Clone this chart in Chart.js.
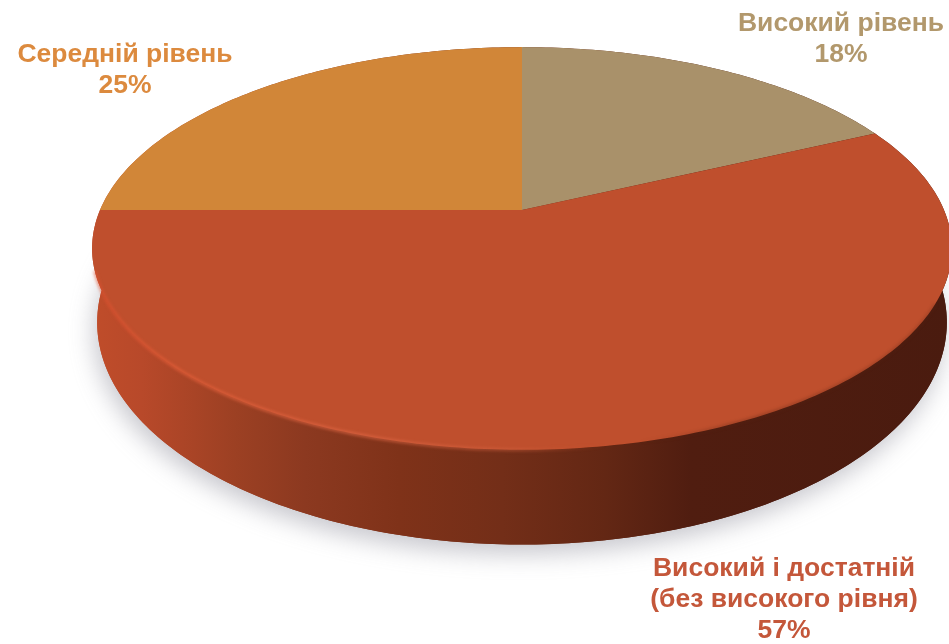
<!DOCTYPE html>
<html>
<head>
<meta charset="utf-8">
<style>html,body{margin:0;padding:0;background:#fff;overflow:hidden}canvas{display:block}</style>
<script src="https://cdn.jsdelivr.net/npm/chart.js@4/dist/chart.umd.min.js"></script>
</head>
<body>
<canvas id="c" width="949" height="644"></canvas>
<script>
const categories = [['Високий рівень'], ['Високий і достатній', '(без високого рівня)'], ['Середній рівень']];
const values = [18, 57, 25];
const faceColors = ['#a9916a', '#bf4f2d', '#d18638'];
const textColors = ['#b2986c', '#c4573a', '#dc8a3e'];

const labelAnchors = [[841, 24], [784, 569], [125, 55]];
const LINE = 31;
const K = 0.191;
const topDisc = {cx: 522, cy: 210, a: 194, b: 422};
const lowDisc = {cx: 522, cy: 280, a: 214, b: 417};

function project(d, theta) {
  const u = Math.sin(theta), v = Math.cos(theta), w = 1 + K * v;
  return [d.cx + d.b * u / w, d.cy - d.a * v / w];
}
function trace(ctx, d, t0, t1, withCentre) {
  const n = Math.max(2, Math.ceil(Math.abs(t1 - t0) * 60));
  if (withCentre) ctx.lineTo(d.cx, d.cy);
  for (let i = 0; i <= n; i++) {
    const p = project(d, t0 + (t1 - t0) * i / n);
    ctx.lineTo(p[0], p[1]);
  }
}
const perspectivePie = {
  id: 'perspectivePie',
  beforeDatasetsDraw(chart) {
    const ctx = chart.ctx;
    const arcs = chart.getDatasetMeta(0).data;
    const angle = a => a + Math.PI / 2;
    ctx.save();

    const sideGrad = ctx.createLinearGradient(90, 0, 949, 0);
    [[0, '#c04d2a'], [0.06, '#b8492a'], [0.17, '#9c4023'], [0.25, '#8c3920'], [0.36, '#7f3219'],
     [0.48, '#732e18'], [0.6, '#632714'], [0.7, '#501d10'], [1, '#4a1b0f']].forEach(s => sideGrad.addColorStop(s[0], s[1]));

    // ground shadow + lower disc
    ctx.save();
    ctx.shadowColor = 'rgba(120,120,135,0.42)';
    ctx.shadowBlur = 24;
    ctx.shadowOffsetX = -3;
    ctx.shadowOffsetY = 9;
    ctx.fillStyle = sideGrad;
    ctx.beginPath();
    trace(ctx, lowDisc, 0, Math.PI * 2, false);
    ctx.closePath();
    ctx.fill();
    ctx.restore();

    ctx.filter = 'blur(0.7px)';
    // wall between lower and upper disc
    ctx.fillStyle = sideGrad;
    arcs.forEach(el => {
      const t0 = angle(el.startAngle), t1 = angle(el.endAngle);
      ctx.beginPath();
      trace(ctx, topDisc, t0, t1, false);
      trace(ctx, lowDisc, t1, t0, false);
      ctx.closePath();
      ctx.fill();
    });
    // upper faces
    arcs.forEach((el, i) => {
      ctx.fillStyle = faceColors[i];
      ctx.beginPath();
      trace(ctx, topDisc, angle(el.startAngle), angle(el.endAngle), true);
      ctx.closePath();
      ctx.fill();
    });
    // rim highlight on the near edge of the largest slice
    const big = arcs[values.indexOf(Math.max(...values))];
    const rim = ctx.createLinearGradient(90, 0, 949, 0);
    [[0, 'rgba(226,80,48,0.55)'], [0.1, 'rgba(232,96,58,0.7)'], [0.3, 'rgba(226,104,70,0.7)'],
     [0.5, 'rgba(216,100,66,0.45)'], [0.6, 'rgba(200,80,45,0)'], [0.64, 'rgba(90,35,18,0)'],
     [0.75, 'rgba(90,35,18,0.35)'], [1, 'rgba(90,35,18,0.25)']].forEach(s => rim.addColorStop(s[0], s[1]));
    ctx.filter = 'blur(1.4px)';
    ctx.strokeStyle = rim;
    ctx.lineWidth = 3;
    ctx.beginPath();
    trace(ctx, topDisc, angle(big.startAngle) + 0.9, angle(big.endAngle) - 0.3, false);
    ctx.stroke();
    ctx.restore();

    // labels
    ctx.save();
    ctx.filter = 'blur(0.3px)';
    ctx.textAlign = 'center';
    ctx.textBaseline = 'middle';
    ctx.font = 'bold 26.5px "Liberation Sans", Arial, sans-serif';
    categories.forEach((lines, i) => {
      ctx.fillStyle = textColors[i];
      const all = lines.concat([values[i] + '%']);
      all.forEach((t, j) => ctx.fillText(t, labelAnchors[i][0], labelAnchors[i][1] + j * LINE));
    });
    ctx.restore();
    return false;
  }
};

new Chart(document.getElementById('c'), {
  type: 'pie',
  data: {
    labels: categories.map(c => c.join(' ')),
    datasets: [{data: values, backgroundColor: faceColors, borderWidth: 0}]
  },
  options: {
    responsive: false,
    animation: false,
    plugins: {legend: {display: false}, tooltip: {enabled: false}}
  },
  plugins: [perspectivePie]
});
</script>
</body>
</html>
